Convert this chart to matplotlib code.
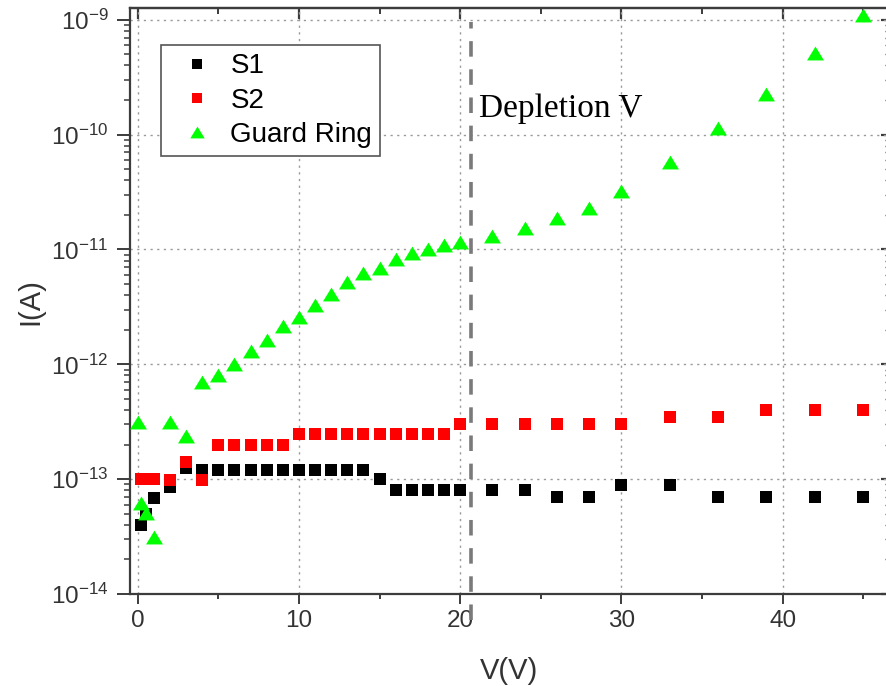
import matplotlib
matplotlib.use('Agg')
import matplotlib.pyplot as plt
from matplotlib.ticker import FixedLocator, LogLocator, NullFormatter, FixedFormatter

plt.rcParams['font.family'] = ['Liberation Sans', 'DejaVu Sans']
plt.rcParams['mathtext.default'] = 'regular'

# ---------------- data ----------------
v_s1 = [0.2, 0.5, 1, 2, 3, 4, 5, 6, 7, 8, 9, 10, 11, 12, 13, 14, 15, 16, 17, 18, 19, 20,
        22, 24, 26, 28, 30, 33, 36, 39, 42, 45]
i_s1 = [4.0e-14, 5.0e-14, 6.9e-14, 8.6e-14, 1.25e-13, 1.2e-13, 1.2e-13, 1.2e-13, 1.2e-13,
        1.2e-13, 1.2e-13, 1.2e-13, 1.2e-13, 1.2e-13, 1.2e-13, 1.2e-13, 1.0e-13, 8.0e-14,
        8.0e-14, 8.0e-14, 8.0e-14, 8.0e-14, 8.0e-14, 8.0e-14, 7.0e-14, 7.0e-14, 8.9e-14,
        8.9e-14, 7.0e-14, 7.0e-14, 7.0e-14, 7.0e-14]

v_s2 = [0.2, 0.5, 1, 2, 3, 4, 5, 6, 7, 8, 9, 10, 11, 12, 13, 14, 15, 16, 17, 18, 19, 20,
        22, 24, 26, 28, 30, 33, 36, 39, 42, 45]
i_s2 = [1.0e-13, 1.0e-13, 1.0e-13, 0.98e-13, 1.4e-13, 0.98e-13, 2.0e-13, 2.0e-13, 2.0e-13,
        2.0e-13, 2.0e-13, 2.45e-13, 2.45e-13, 2.45e-13, 2.45e-13, 2.45e-13, 2.45e-13,
        2.45e-13, 2.45e-13, 2.45e-13, 2.45e-13, 3.0e-13, 3.0e-13, 3.0e-13, 3.0e-13, 3.0e-13,
        3.0e-13, 3.45e-13, 3.45e-13, 4.0e-13, 4.0e-13, 4.0e-13]

v_gr = [0, 0.2, 0.5, 1, 2, 3, 4, 5, 6, 7, 8, 9, 10, 11, 12, 13, 14, 15, 16, 17, 18, 19, 20,
        22, 24, 26, 28, 30, 33, 36, 39, 42, 45]
i_gr = [3.15e-13, 6.2e-14, 5.1e-14, 3.15e-14, 3.17e-13, 2.38e-13, 7.05e-13, 8.1e-13, 1.0e-12,
        1.31e-12, 1.63e-12, 2.15e-12, 2.6e-12, 3.3e-12, 4.1e-12, 5.2e-12, 6.2e-12, 6.95e-12,
        8.3e-12, 9.3e-12, 1.0e-11, 1.1e-11, 1.16e-11, 1.32e-11, 1.53e-11, 1.87e-11, 2.29e-11,
        3.25e-11, 5.75e-11, 1.15e-10, 2.24e-10, 5.1e-10, 1.09e-9]

series_names = ['S1', 'S2', 'Guard Ring']
depletion_v = 20.65
depletion_label = 'Depletion V'

x_ticks = [0, 10, 20, 30, 40]
x_tick_labels = ['0', '10', '20', '30', '40']
x_minor = [5, 15, 25, 35, 45]
y_ticks = [1e-14, 1e-13, 1e-12, 1e-11, 1e-10, 1e-9]
y_tick_labels = ['10$^{-14}$', '10$^{-13}$', '10$^{-12}$', '10$^{-11}$', '10$^{-10}$', '10$^{-9}$']

# ---------------- figure ----------------
fig = plt.figure(figsize=(8.87, 6.86), dpi=100)
ax = fig.add_axes([130 / 887, 92 / 686, 759 / 887, 585.7 / 686])
ax.set_yscale('log')
ax.set_xlim(-0.48, 46.6)
ax.set_ylim(1e-14, 10 ** -8.90)

spine_c = '#3c3c3c'
txt_c = '#333333'
for s in ax.spines.values():
    s.set_color(spine_c)
    s.set_linewidth(1.6)

ax.grid(True, which='major', color='#9a9a9a', linestyle=(0, (1.6, 3.2)), linewidth=1.0, zorder=0)
ax.set_axisbelow(True)

tri = [(0, 0.82), (-1, -0.82), (1, -0.82)]
ax.plot(v_s1, i_s1, linestyle='none', marker='s', ms=8.6, color='black', mew=0,
        label=series_names[0], zorder=3, clip_on=False)
ax.plot(v_s2, i_s2, linestyle='none', marker='s', ms=8.6, color='#ff0000', mew=0,
        label=series_names[1], zorder=4, clip_on=False)
ax.plot(v_gr, i_gr, linestyle='none', marker=tri, ms=12.2, color='#00ff00', mew=0,
        label=series_names[2], zorder=5, clip_on=False)

# depletion voltage marker
ax.plot([depletion_v, depletion_v], [10 ** -14.23, 10 ** -9.02], color='#7a7a7a', lw=2.6,
        dashes=(4.3, 3.5), clip_on=False, zorder=2)
ax.text(21.17, 10 ** -9.85, depletion_label, family=['Liberation Serif', 'DejaVu Serif'],
        fontsize=24, va='baseline', ha='left', color='black')

# ticks
ax.xaxis.set_major_locator(FixedLocator(x_ticks))
ax.xaxis.set_major_formatter(FixedFormatter(x_tick_labels))
ax.xaxis.set_minor_locator(FixedLocator(x_minor))
ax.yaxis.set_major_locator(FixedLocator(y_ticks))
ax.yaxis.set_major_formatter(FixedFormatter(y_tick_labels))
ax.yaxis.set_minor_locator(LogLocator(base=10, subs=range(2, 10), numticks=20))
ax.yaxis.set_minor_formatter(NullFormatter())

ax.tick_params(axis='x', which='major', direction='out', length=7.5, width=1.4,
               color=spine_c, labelsize=17.5, labelcolor=txt_c, pad=4)
ax.tick_params(axis='x', which='minor', direction='out', length=3.5, width=1.4, color=spine_c)
ax.tick_params(axis='y', which='major', direction='out', length=9.5, width=1.4,
               color=spine_c, labelsize=17.5, labelcolor=txt_c, pad=6)
ax.tick_params(axis='y', which='minor', direction='out', length=4.5, width=1.1, color=spine_c)

# top / right inward ticks
secx = ax.secondary_xaxis('top')
secx.xaxis.set_major_locator(FixedLocator(x_ticks))
secx.xaxis.set_minor_locator(FixedLocator(x_minor))
secx.tick_params(which='major', direction='in', length=8, width=1.6, color=spine_c, labeltop=False)
secx.tick_params(which='minor', direction='in', length=4, width=1.4, color=spine_c)
secx.spines['top'].set_color(spine_c)
secx.spines['top'].set_linewidth(1.6)

secy = ax.secondary_yaxis('right')
secy.yaxis.set_major_locator(FixedLocator(y_ticks))
secy.yaxis.set_minor_locator(LogLocator(base=10, subs=range(2, 10), numticks=20))
secy.yaxis.set_minor_formatter(NullFormatter())
secy.tick_params(which='major', direction='in', length=6, width=1.6, color=spine_c, labelright=False)
secy.tick_params(which='minor', direction='in', length=3, width=1.0, color=spine_c)

ax.set_xlabel('V(V)', fontsize=21, color=txt_c, labelpad=18)
ax.set_ylabel('I(A)', fontsize=21, color=txt_c, labelpad=5)

leg = ax.legend(loc='upper left', bbox_to_anchor=(0.0408, 0.9373), borderaxespad=0,
                fontsize=20, frameon=True, fancybox=False, framealpha=1, edgecolor='#555555',
                borderpad=0.3, handlelength=2.0, handletextpad=0.2, labelspacing=0.3,
                markerscale=0.85)
leg.get_frame().set_linewidth(1.2)
for t in leg.get_texts():
    t.set_color('black')

fig.savefig('out.png', dpi=100)
